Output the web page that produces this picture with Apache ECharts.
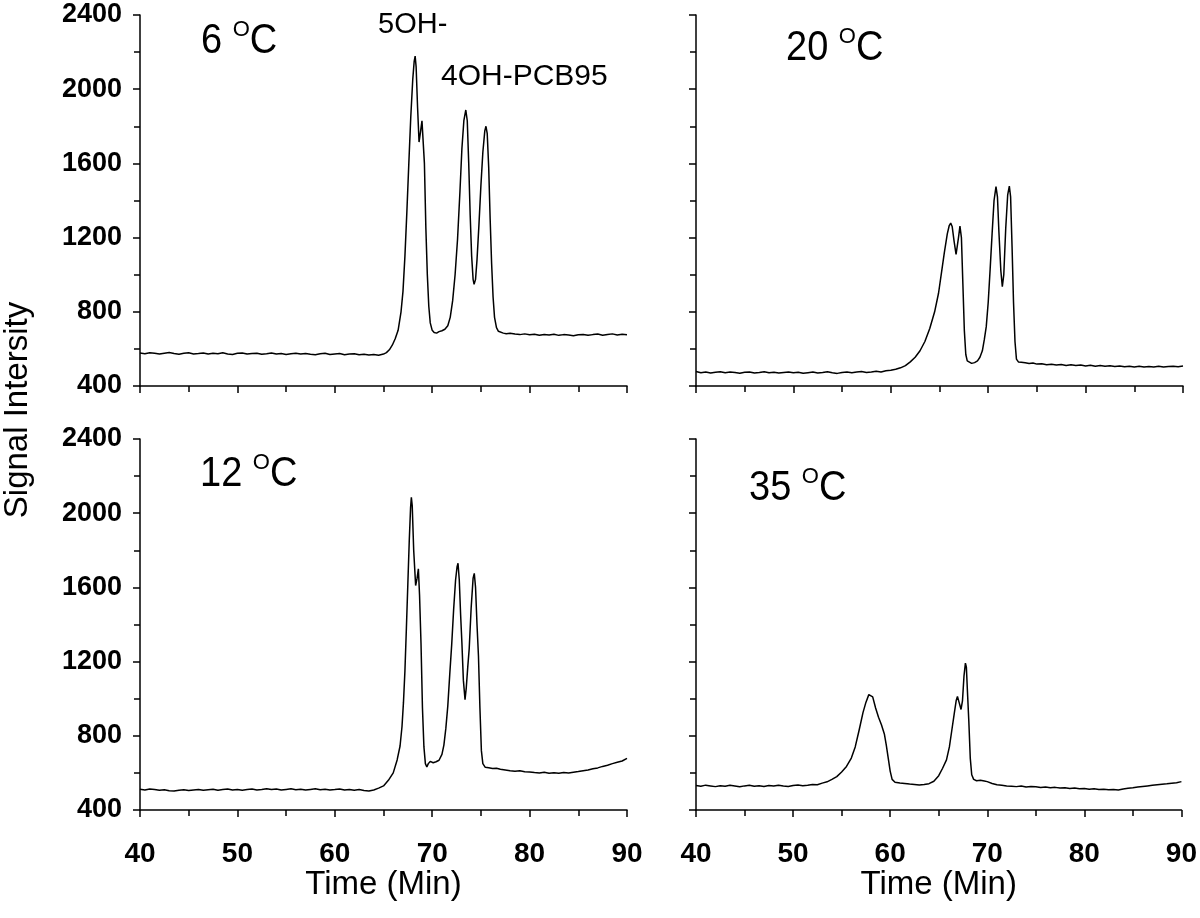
<!DOCTYPE html>
<html>
<head>
<meta charset="utf-8">
<script src="https://cdn.jsdelivr.net/npm/echarts@6/dist/echarts.min.js"></script>
<style>
html,body{margin:0;padding:0;background:#fff;}
#chart{width:1200px;height:918px;}
</style>
</head>
<body>
<div id="chart"></div>
<script>
// ---- Data (time in min, signal intensity) ----
const xTicks = [40, 50, 60, 70, 80, 90];
const yTicks = [400, 800, 1200, 1600, 2000, 2400];
const panelTitles = ['6', '20', '12', '35'];

const trace6C = [
[40,578],[40.5,574],[41,579],[41.5,576],[42,572],[42.5,577],[43,580],[43.5,575],[44,571],[44.5,576],
[45,579],[45.5,573],[46,575],[46.5,578],[47,572],[47.5,576],[48,574],[48.5,579],[49,573],[49.5,570],
[50,576],[50.5,578],[51,572],[51.5,575],[52,577],[52.5,571],[53,574],[53.5,578],[54,572],[54.5,575],
[55,570],[55.5,574],[56,577],[56.5,572],[57,575],[57.5,571],[58,569],[58.5,574],[59,576],[59.5,570],
[60,573],[60.5,575],[61,569],[61.5,572],[62,574],[62.5,568],[63,571],[63.5,567],[64,570],[64.5,566],
[65,572],[65.3,580],[65.6,595],[65.9,620],[66.2,655],[66.5,700],[66.8,800],[67.0,910],[67.2,1100],
[67.4,1340],[67.6,1600],[67.8,1850],[68.0,2050],[68.15,2150],[68.25,2178],[68.35,2120],[68.5,1900],
[68.65,1715],[68.8,1770],[68.95,1830],[69.05,1820],[69.2,1600],[69.35,1250],[69.5,1000],[69.65,830],
[69.8,740],[70.0,700],[70.2,688],[70.45,685],[70.7,693],[71.0,698],[71.3,706],[71.6,725],[71.85,770],
[72.1,860],[72.35,1000],[72.6,1190],[72.85,1450],[73.05,1680],[73.25,1830],[73.45,1888],[73.6,1830],
[73.75,1600],[73.9,1320],[74.05,1100],[74.2,975],[74.3,948],[74.45,975],[74.6,1080],[74.8,1270],
[75.0,1480],[75.2,1660],[75.4,1775],[75.52,1800],[75.65,1760],[75.8,1580],[75.95,1300],[76.1,1060],
[76.25,880],[76.4,770],[76.6,715],[76.8,695],[77.0,688],[77.3,685],[77.6,682],[78,684],[78.5,680],
[79,677],[79.5,681],[80,676],[80.5,679],[81,674],[81.5,678],[82,675],[82.5,679],[83,673],[83.5,677],
[84,675],[84.5,671],[85,676],[85.5,678],[86,673],[86.5,677],[87,680],[87.5,674],[88,678],[88.5,681],
[89,675],[89.5,679],[90,676]
];

const trace20C = [
[40,478],[40.5,472],[41,476],[41.5,470],[42,474],[42.5,477],[43,471],[43.5,475],[44,473],[44.5,469],
[45,474],[45.5,476],[46,470],[46.5,473],[47,477],[47.5,471],[48,474],[48.5,470],[49,473],[49.5,476],
[50,471],[50.5,474],[51,469],[51.5,472],[52,475],[52.5,470],[53,473],[53.5,477],[54,471],[54.5,468],
[55,473],[55.5,476],[56,472],[56.5,475],[57,478],[57.5,473],[58,476],[58.5,480],[59,476],[59.5,482],
[60,485],[60.5,490],[61,498],[61.5,510],[62,530],[62.5,555],[63,590],[63.5,640],[64,710],[64.5,800],
[64.9,900],[65.2,1010],[65.5,1120],[65.8,1220],[66.0,1265],[66.15,1278],[66.3,1260],[66.5,1180],
[66.7,1110],[66.8,1105],[66.95,1200],[67.1,1262],[67.25,1200],[67.4,950],[67.55,700],[67.7,570],
[67.85,535],[68.05,528],[68.3,522],[68.6,526],[68.9,535],[69.15,555],[69.4,590],[69.6,650],[69.8,720],
[70.0,850],[70.2,1030],[70.4,1220],[70.6,1400],[70.8,1475],[70.95,1420],[71.1,1230],[71.3,1020],
[71.45,935],[71.6,1000],[71.8,1250],[72.0,1430],[72.17,1478],[72.3,1420],[72.45,1150],[72.6,850],
[72.75,640],[72.9,545],[73.1,530],[73.4,528],[73.8,525],[74.2,521],[74.6,524],[75,518],[75.5,520],
[76,515],[76.5,517],[77,513],[77.5,516],[78,511],[78.5,514],[79,510],[79.5,513],[80,508],[80.5,512],
[81,507],[81.5,510],[82,506],[82.5,509],[83,505],[83.5,508],[84,504],[84.5,507],[85,503],[85.5,506],
[86,502],[86.5,505],[87,503],[87.5,506],[88,502],[88.5,505],[89,507],[89.5,504],[90,508]
];

const trace12C = [
[40,512],[40.5,508],[41,513],[41.5,510],[42,506],[42.5,509],[43,504],[43.5,502],[44,507],[44.5,509],
[45,505],[45.5,508],[46,511],[46.5,506],[47,509],[47.5,512],[48,507],[48.5,510],[49,513],[49.5,508],
[50,511],[50.5,507],[51,510],[51.5,513],[52,508],[52.5,511],[53,515],[53.5,510],[54,513],[54.5,508],
[55,511],[55.5,514],[56,509],[56.5,512],[57,508],[57.5,511],[58,514],[58.5,509],[59,512],[59.5,508],
[60,510],[60.5,513],[61,508],[61.5,511],[62,507],[62.5,510],[63,505],[63.5,503],[64,508],[64.5,518],
[65,530],[65.5,560],[66,600],[66.4,670],[66.7,745],[66.9,850],[67.05,980],[67.2,1150],[67.35,1380],
[67.5,1620],[67.65,1860],[67.78,2030],[67.86,2086],[67.95,2040],[68.1,1800],[68.3,1610],[68.45,1650],
[68.58,1700],[68.7,1560],[68.85,1300],[69.0,950],[69.15,740],[69.3,650],[69.45,632],[69.6,650],
[69.8,662],[70.1,655],[70.4,660],[70.7,668],[71.0,700],[71.2,750],[71.4,840],[71.6,960],[71.8,1130],
[72.0,1290],[72.2,1480],[72.4,1640],[72.55,1710],[72.65,1730],[72.78,1640],[72.92,1450],[73.05,1300],
[73.2,1100],[73.37,995],[73.5,1060],[73.65,1170],[73.8,1270],[74.0,1490],[74.2,1650],[74.32,1676],
[74.45,1600],[74.6,1400],[74.75,1230],[74.9,950],[75.05,720],[75.2,650],[75.45,630],[75.8,628],
[76.2,624],[76.6,625],[77,620],[77.5,616],[78,612],[78.5,609],[79,611],[79.5,606],[80,605],[80.5,602],
[81,600],[81.5,603],[82,598],[82.5,601],[83,598],[83.5,602],[84,600],[84.5,604],[85,607],[85.5,612],
[86,616],[86.5,622],[87,627],[87.5,635],[88,641],[88.5,650],[89,657],[89.5,664],[90,678]
];

const trace35C = [
[40,532],[40.5,528],[41,534],[41.5,530],[42,526],[42.5,531],[43,528],[43.5,533],[44,529],[44.5,525],
[45,530],[45.5,533],[46,528],[46.5,531],[47,527],[47.5,532],[48,529],[48.5,534],[49,530],[49.5,527],
[50,532],[50.5,535],[51,531],[51.5,534],[52,538],[52.5,536],[53,545],[53.5,552],[54,565],[54.5,580],
[55,605],[55.5,635],[56,680],[56.4,740],[56.8,830],[57.2,925],[57.5,980],[57.8,1022],[58.0,1030],
[58.2,1010],[58.5,950],[58.8,900],[59.1,860],[59.4,810],[59.6,750],[59.8,680],[60.0,610],[60.2,565],
[60.5,550],[61,545],[61.5,543],[62,540],[62.5,538],[63,535],[63.5,537],[64,542],[64.5,555],[65,585],
[65.4,625],[65.8,670],[66.1,740],[66.35,830],[66.6,920],[66.8,990],[66.93,1012],[67.1,980],[67.3,942],
[67.45,990],[67.6,1120],[67.75,1192],[67.85,1170],[67.95,1050],[68.1,880],[68.25,680],[68.4,590],
[68.6,565],[68.9,558],[69.3,560],[69.7,556],[70.0,553],[70.5,543],[71,536],[71.5,533],[72,530],
[72.5,528],[73,526],[73.5,529],[74,524],[74.5,527],[75,525],[75.5,521],[76,524],[76.5,520],[77,522],
[77.5,518],[78,520],[78.5,516],[79,518],[79.5,514],[80,516],[80.5,512],[81,514],[81.5,510],[82,512],
[82.5,509],[83,511],[83.5,508],[84,513],[84.5,517],[85,520],[85.5,524],[86,527],[86.5,530],[87,533],
[87.5,536],[88,539],[88.5,541],[89,544],[89.5,547],[90,553]
];

const traces = [trace6C, trace20C, trace12C, trace35C];

// ---- Layout ----
const FONT = "'Liberation Sans', Arial, Helvetica, sans-serif";
const grids = [
  {left:140, top:15,  width:487, height:371},
  {left:696, top:15,  width:487, height:371},
  {left:140, top:439, width:487, height:371},
  {left:696, top:439, width:487, height:371}
];

const xAxes = grids.map((g, i) => ({
  type:'value', gridIndex:i,
  min:xTicks[0], max:xTicks[xTicks.length-1], interval:xTicks[1]-xTicks[0],
  axisLine:{show:true, onZero:false, lineStyle:{color:'#000', width:1.5}},
  axisTick:{show:true, inside:false, length:7, lineStyle:{color:'#000', width:1.5}},
  minorTick:{show:true, splitNumber:2, length:6, lineStyle:{color:'#000', width:1.5}},
  splitLine:{show:false},
  axisLabel:{show:i>=2, color:'#000', fontFamily:FONT, fontWeight:'bold', fontSize:28, margin:30,
             formatter:v => String(v)},
  name: i>=2 ? 'Time (Min)' : '',
  nameLocation:'middle', nameGap:53,
  nameTextStyle:{color:'#000', fontFamily:FONT, fontSize:33}
}));

const yAxes = grids.map((g, i) => ({
  type:'value', gridIndex:i,
  min:yTicks[0], max:yTicks[yTicks.length-1], interval:yTicks[1]-yTicks[0],
  axisLine:{show:true, onZero:false, lineStyle:{color:'#000', width:1.5}},
  axisTick:{show:true, inside:false, length:7, lineStyle:{color:'#000', width:1.5}},
  minorTick:{show:true, splitNumber:2, length:6, lineStyle:{color:'#000', width:1.5}},
  splitLine:{show:false},
  axisLabel:{show:i%2===0, color:'#000', fontFamily:FONT, fontWeight:'bold', fontSize:27, margin:18,
             formatter:v => String(v)}
}));

const series = traces.map((d, i) => ({
  type:'line', xAxisIndex:i, yAxisIndex:i, data:d,
  showSymbol:false, symbol:'none', smooth:false,
  lineStyle:{color:'#000', width:1.5}
}));

// ---- Panel titles: number + superscript "O" + "C" ----
const ctx = document.createElement('canvas').getContext('2d');
function textW(str, size){ ctx.font = size + 'px ' + FONT; return ctx.measureText(str).width; }
const TF = 38, SF = 22, TSY = 1.1;
const titlePos = [[201,41],[786,48],[200,474],[749,488]];
const titleGraphics = [];
panelTitles.forEach((num, i) => {
  const x0 = titlePos[i][0], yc = titlePos[i][1];
  const wNum = textW(num + ' ', TF);
  const wO = textW('O', SF);
  titleGraphics.push({type:'text', x:x0, y:yc, scaleY:TSY,
    style:{text:num + ' ', font:TF + 'px ' + FONT, fill:'#000', verticalAlign:'middle', align:'left'}});
  titleGraphics.push({type:'text', x:x0 + wNum, y:yc - 0.39*TF*TSY + 0.37*SF - 3,
    style:{text:'O', font:SF + 'px ' + FONT, fill:'#000', verticalAlign:'middle', align:'left'}});
  titleGraphics.push({type:'text', x:x0 + wNum + wO, y:yc, scaleY:TSY,
    style:{text:'C', font:TF + 'px ' + FONT, fill:'#000', verticalAlign:'middle', align:'left'}});
});

const option = {
  animation:false,
  backgroundColor:'#fff',
  grid:grids.map(g => Object.assign({containLabel:false}, g)),
  xAxis:xAxes,
  yAxis:yAxes,
  series:series,
  graphic:titleGraphics.concat([
    {type:'text', x:378, y:25, style:{text:'5OH-', font:'29px ' + FONT, fill:'#000', verticalAlign:'middle'}},
    {type:'text', x:441, y:77, style:{text:'4OH-PCB95', font:'30px ' + FONT, fill:'#000', verticalAlign:'middle'}},
    {type:'text', x:18, y:410, rotation:Math.PI/2,
     style:{text:'Signal Intersity', font:'33px ' + FONT, fill:'#000', align:'center', verticalAlign:'middle'}}
  ])
};

const chart = echarts.init(document.getElementById('chart'), null, {renderer:'canvas'});
chart.setOption(option);
</script>
</body>
</html>
